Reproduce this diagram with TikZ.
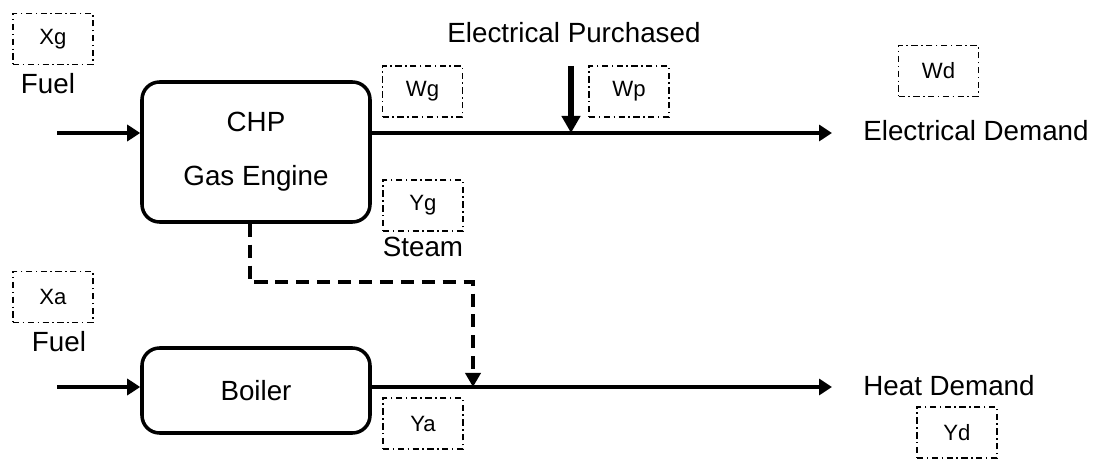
\documentclass[tikz,border=0pt]{standalone}
\usepackage{fontspec}
\setmainfont{Liberation Sans}
\usepackage{tikz}
\usetikzlibrary{arrows.meta, positioning, calc}

\begin{document}
\begin{tikzpicture}[
  font=\fontsize{15.8}{18}\selectfont,
  unitbox/.style={rounded corners=10pt, line width=2pt, draw=black, minimum width=4.56cm, align=center},
  varbox/.style={draw=black, line width=1pt, dash pattern=on 3.6pt off 2pt on 0.8pt off 2pt, minimum width=1.6cm, minimum height=1.02cm, font=\fontsize{12.6}{14}\selectfont},
  flow/.style={-{Triangle[length=0.26cm, width=0.32cm]}, line width=2pt},
  steamflow/.style={-{Triangle[length=0.28cm, width=0.3cm]}, line width=2pt, dash pattern=on 7.4pt off 4.5pt},
  buyflow/.style={-{Triangle[length=0.34cm, width=0.36cm]}, line width=3.2pt},
  lbl/.style={inner sep=0pt}
]
  \useasboundingbox (0,0) rectangle (22,-9.22);

  % gas engine branch
  \node[unitbox, minimum height=2.8cm] (chp) at (5.12,-3.04) {CHP\\[0.45cm]Gas Engine};
  \node[varbox] (xg) at (1.06,-0.78) {Xg};
  \node[lbl] (fuelg) at (0.96,-1.67) {Fuel};
  \coordinate (ing) at (1.14,-2.66);
  \coordinate (eldem) at (16.64,-2.66);
  \node[lbl, anchor=west] (eltxt) at (17.26,-2.62) {Electrical Demand};
  \node[varbox] (wg) at (8.45,-1.83) {Wg};
  \node[varbox] (wp) at (12.58,-1.83) {Wp};
  \node[varbox] (wd) at (18.77,-1.42) {Wd};
  \node[lbl] (buytxt) at (11.48,-0.66) {Electrical Purchased};
  \coordinate (buy) at (11.42,-1.32);
  \node[varbox] (yg) at (8.46,-4.11) {Yg};
  \node[lbl] (steam) at (8.46,-4.94) {Steam};

  % boiler branch
  \node[unitbox, minimum height=1.7cm] (boiler) at (5.12,-7.81) {Boiler};
  \node[varbox] (xa) at (1.06,-5.94) {Xa};
  \node[lbl] (fuela) at (1.18,-6.83) {Fuel};
  \coordinate (ina) at (1.14,-7.74);
  \coordinate (heatdem) at (16.64,-7.74);
  \node[lbl, anchor=west] (heattxt) at (17.26,-7.72) {Heat Demand};
  \node[varbox] (ya) at (8.46,-8.47) {Ya};
  \node[varbox] (yd) at (19.14,-8.65) {Yd};
  \coordinate (mix) at (9.46,-7.74);

  \draw[flow] (ing) -- (ing -| chp.west);
  \draw[flow] (ing -| chp.east) -- (eldem);
  \draw[buyflow] (buy) -- (buy |- eldem);
  \draw[flow] (ina) -- (ina -| boiler.west);
  \draw[flow] (ina -| boiler.east) -- (heatdem);
  \draw[steamflow] (chp.south -| 5.0,0) -- (5.0,-5.64) -| (mix);
\end{tikzpicture}
\end{document}
